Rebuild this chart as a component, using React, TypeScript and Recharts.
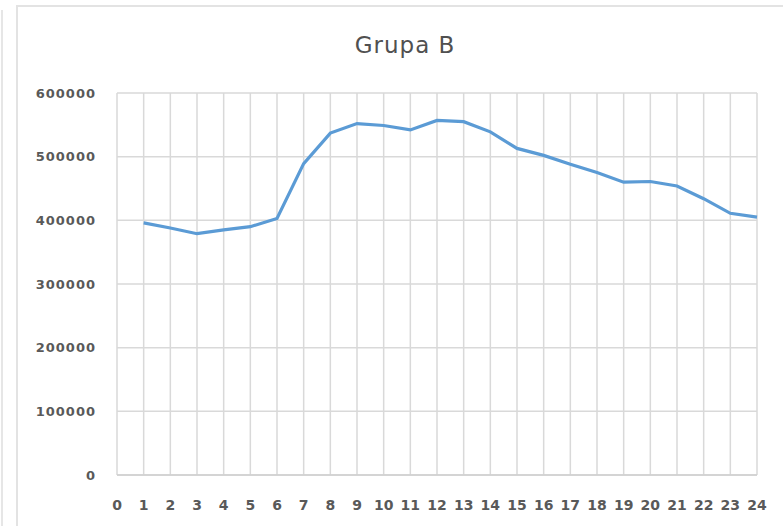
import { CartesianGrid, Line, LineChart, XAxis, YAxis } from "recharts";

// hourly totals for group B (hour 0 has no reading)
const hours = [1, 2, 3, 4, 5, 6, 7, 8, 9, 10, 11, 12, 13, 14, 15, 16, 17, 18, 19, 20, 21, 22, 23, 24];
const values = [
  396000, 388000, 379000, 385000, 390000, 403000, 489000, 537000, 552000, 549000, 542000, 557000,
  555000, 539000, 513000, 502000, 488000, 475000, 460000, 461000, 454000, 434000, 411000, 405000,
];
const xTicks = [0, 1, 2, 3, 4, 5, 6, 7, 8, 9, 10, 11, 12, 13, 14, 15, 16, 17, 18, 19, 20, 21, 22, 23, 24];
const yTicks = [0, 100000, 200000, 300000, 400000, 500000, 600000];

const data = hours.map((h, i) => ({ hour: h, value: values[i] }));

const textColor = "#595959";
const gridColor = "#d9d9d9";

export default function App() {
  return (
    <div
      style={{
        position: "absolute",
        left: 0,
        top: 0,
        width: 783,
        height: 526,
        background: "#fff",
        overflow: "hidden",
      }}
    >
      {/* neighbouring panel edge */}
      <div
        style={{
          position: "absolute",
          left: 1,
          top: 10,
          width: 2,
          height: 530,
          background: "#e6e6e6",
        }}
      />
      {/* chart frame */}
      <div
        style={{
          position: "absolute",
          left: 16,
          top: 5,
          width: 800,
          height: 540,
          border: "2px solid #e3e3e3",
          boxSizing: "border-box",
        }}
      />
      <div
        style={{
          position: "absolute",
          left: 0,
          top: 32,
          width: 810,
          textAlign: "center",
          fontFamily: "DejaVu Sans",
          fontSize: 23,
          letterSpacing: 1,
          color: "#505050",
        }}
      >
        Grupa B
      </div>
      <div style={{ position: "absolute", left: 0, top: 0 }}>
        <LineChart
          width={783}
          height={526}
          data={data}
          margin={{ top: 93, right: 26, bottom: 21, left: 0 }}
        >
          <CartesianGrid stroke={gridColor} strokeWidth={1.5} />
          <XAxis
            dataKey="hour"
            type="number"
            domain={[0, 24]}
            ticks={xTicks}
            interval={0}
            height={30}
            stroke="#cfcfcf"
            strokeWidth={1.5}
            tickLine={false}
            tickSize={0}
            tickMargin={25}
            tick={{
              fill: textColor,
              fontSize: 14,
              fontWeight: "bold",
              fontFamily: "DejaVu Sans",
            }}
          />
          <YAxis
            type="number"
            domain={[0, 600000]}
            ticks={yTicks}
            interval={0}
            width={117}
            axisLine={false}
            tickLine={false}
            tickSize={0}
            tickMargin={21}
            tick={{
              fill: textColor,
              fontSize: 13,
              fontWeight: "bold",
              fontFamily: "DejaVu Sans",
              letterSpacing: 1,
            }}
          />
          <Line
            type="linear"
            dataKey="value"
            stroke="#5b9bd5"
            strokeWidth={3.2}
            dot={false}
            isAnimationActive={false}
          />
        </LineChart>
      </div>
    </div>
  );
}
